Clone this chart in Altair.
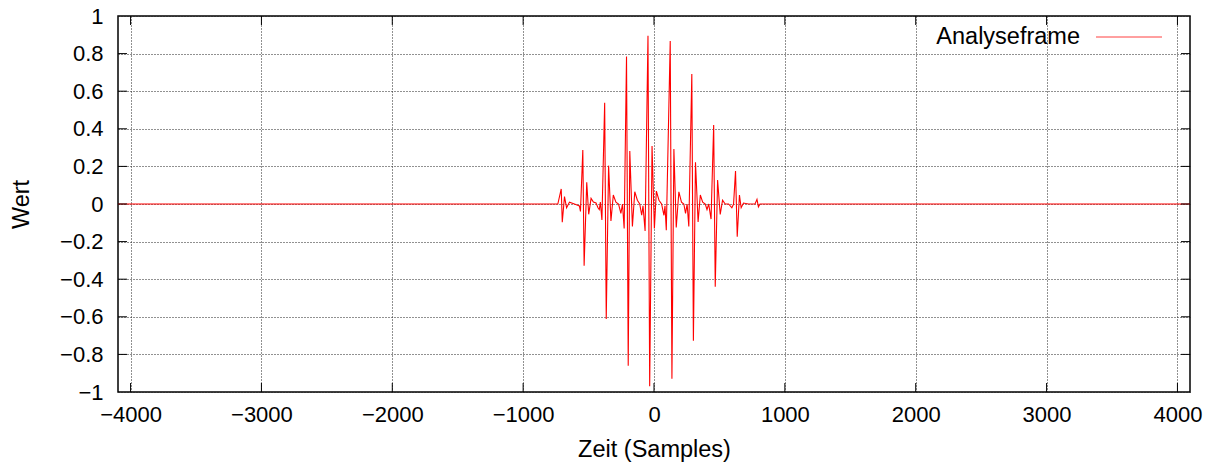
import altair as alt
import pandas as pd

# Signal (sample index, value)
sample_times = [-4096, -735, -709, -701, -684, -668, -646, -608, -570, -562,
                -544, -534, -514, -499, -481, -463, -443, -428, -418, -410, -398,
                -377, -365, -347, -329, -311, -291, -271, -253, -241, -228,
                -210, -197, -185, -165, -147, -127, -109, -94, -84, -68,
                -46, -33, -15, 3, 18, 38, 58, 76, 84, 94,
                124, 137, 152, 170, 190, 210, 228, 241, 253, 266,
                289, 301, 317, 337, 354, 372, 392, 405, 418, 436,
                456, 468, 486, 506, 524, 544, 570, 595, 608,
                623, 636, 653, 666, 684, 722, 772, 787, 798, 810, 4096]
sample_values = [0.0, 0.0, 0.08, -0.097, 0.039, -0.02, 0.01, 0.0, -0.01, -0.04,
                 0.287, -0.328, 0.115, -0.055, 0.03, 0.01, 0.005, -0.02, -0.03, 0.01, -0.085,
                 0.539, -0.612, 0.204, -0.09, 0.048, 0.01, 0.0, -0.05, 0.0, -0.13,
                 0.784, -0.86, 0.282, -0.12, 0.065, 0.02, 0.0, -0.06, -0.01, -0.144,
                 0.895, -0.97, 0.309, -0.13, 0.069, 0.02, 0.0, -0.06, -0.01, -0.14,
                 0.867, -0.93, 0.293, -0.125, 0.065, 0.01, 0.0, -0.05, 0.0, -0.12,
                 0.691, -0.727, 0.222, -0.095, 0.048, 0.01, 0.0, -0.03, 0.0, -0.08,
                 0.42, -0.44, 0.128, -0.055, 0.02, 0.0, 0.0, -0.02, 0.0,
                 0.176, -0.174, 0.048, -0.02, 0.005, 0.0, 0.0, 0.025, -0.015, 0.0, 0.0]

x_ticks = [-4000, -3000, -2000, -1000, 0, 1000, 2000, 3000, 4000]
y_ticks = [-1, -0.8, -0.6, -0.4, -0.2, 0, 0.2, 0.4, 0.6, 0.8, 1]
series_name = "Analyseframe"

W, H = 1072, 376
FONT = "Liberation Sans"
TICK = 9
LABEL_SIZE = 22
TITLE_SIZE = 23.5

df = pd.DataFrame({"t": sample_times, "v": sample_values})
xt = pd.DataFrame({"t": x_ticks})
yt = pd.DataFrame({"v": [v for v in y_ticks if abs(v) < 1]})

xscale = alt.Scale(domain=[-4096, 4096], nice=False, zero=False)
yscale = alt.Scale(domain=[-1, 1], nice=False, zero=False)

common_axis = dict(grid=True, gridColor="#222", gridDash=[1, 2], gridWidth=1,
                   domain=False, ticks=False,
                   labelFont=FONT, labelFontSize=LABEL_SIZE, labelColor="#000",
                   titleFont=FONT, titleFontSize=TITLE_SIZE, titleFontWeight="normal",
                   titleColor="#000")
x_axis = alt.Axis(values=x_ticks, format="d", title="Zeit (Samples)",
                  labelPadding=12, titlePadding=12, **common_axis)
y_axis = alt.Axis(values=y_ticks, format=".1~f", title="Wert",
                  labelPadding=15, titlePadding=26, **common_axis)

X = alt.X("t:Q", scale=xscale, axis=x_axis)
Y = alt.Y("v:Q", scale=yscale, axis=y_axis)

line = alt.Chart(df).mark_line(color="#ff0000", strokeWidth=1.1, clip=True).encode(x=X, y=Y)

tick_style = dict(color="#000", strokeWidth=1)
xb = alt.Chart(xt).mark_rule(**tick_style).encode(x=X, y=alt.value(H), y2=alt.value(H - TICK))
xtop = alt.Chart(xt).mark_rule(**tick_style).encode(x=X, y=alt.value(0), y2=alt.value(TICK))
yl = alt.Chart(yt).mark_rule(**tick_style).encode(y=Y, x=alt.value(0), x2=alt.value(TICK))
yr = alt.Chart(yt).mark_rule(**tick_style).encode(y=Y, x=alt.value(W - TICK), x2=alt.value(W))

leg = pd.DataFrame({"name": [series_name]})
leg_text = alt.Chart(leg).mark_text(align="right", baseline="middle", font=FONT,
                                     fontSize=TITLE_SIZE, color="#000").encode(
    text="name:N", x=alt.value(962), y=alt.value(21))
leg_line = alt.Chart(leg).mark_rule(color="#ff0000", strokeWidth=1, opacity=0.75).encode(
    x=alt.value(978), x2=alt.value(1044), y=alt.value(21))

chart = alt.layer(line, xb, xtop, yl, yr, leg_text, leg_line).properties(
    width=W, height=H,
    background="white",
    autosize=alt.AutoSizeParams(type="none"),
    padding={"left": 118, "top": 16, "right": 24, "bottom": 75},
).configure_view(stroke="#000", strokeWidth=1.5)

chart.save("out.html", embed_options={"renderer": "svg", "actions": False})
